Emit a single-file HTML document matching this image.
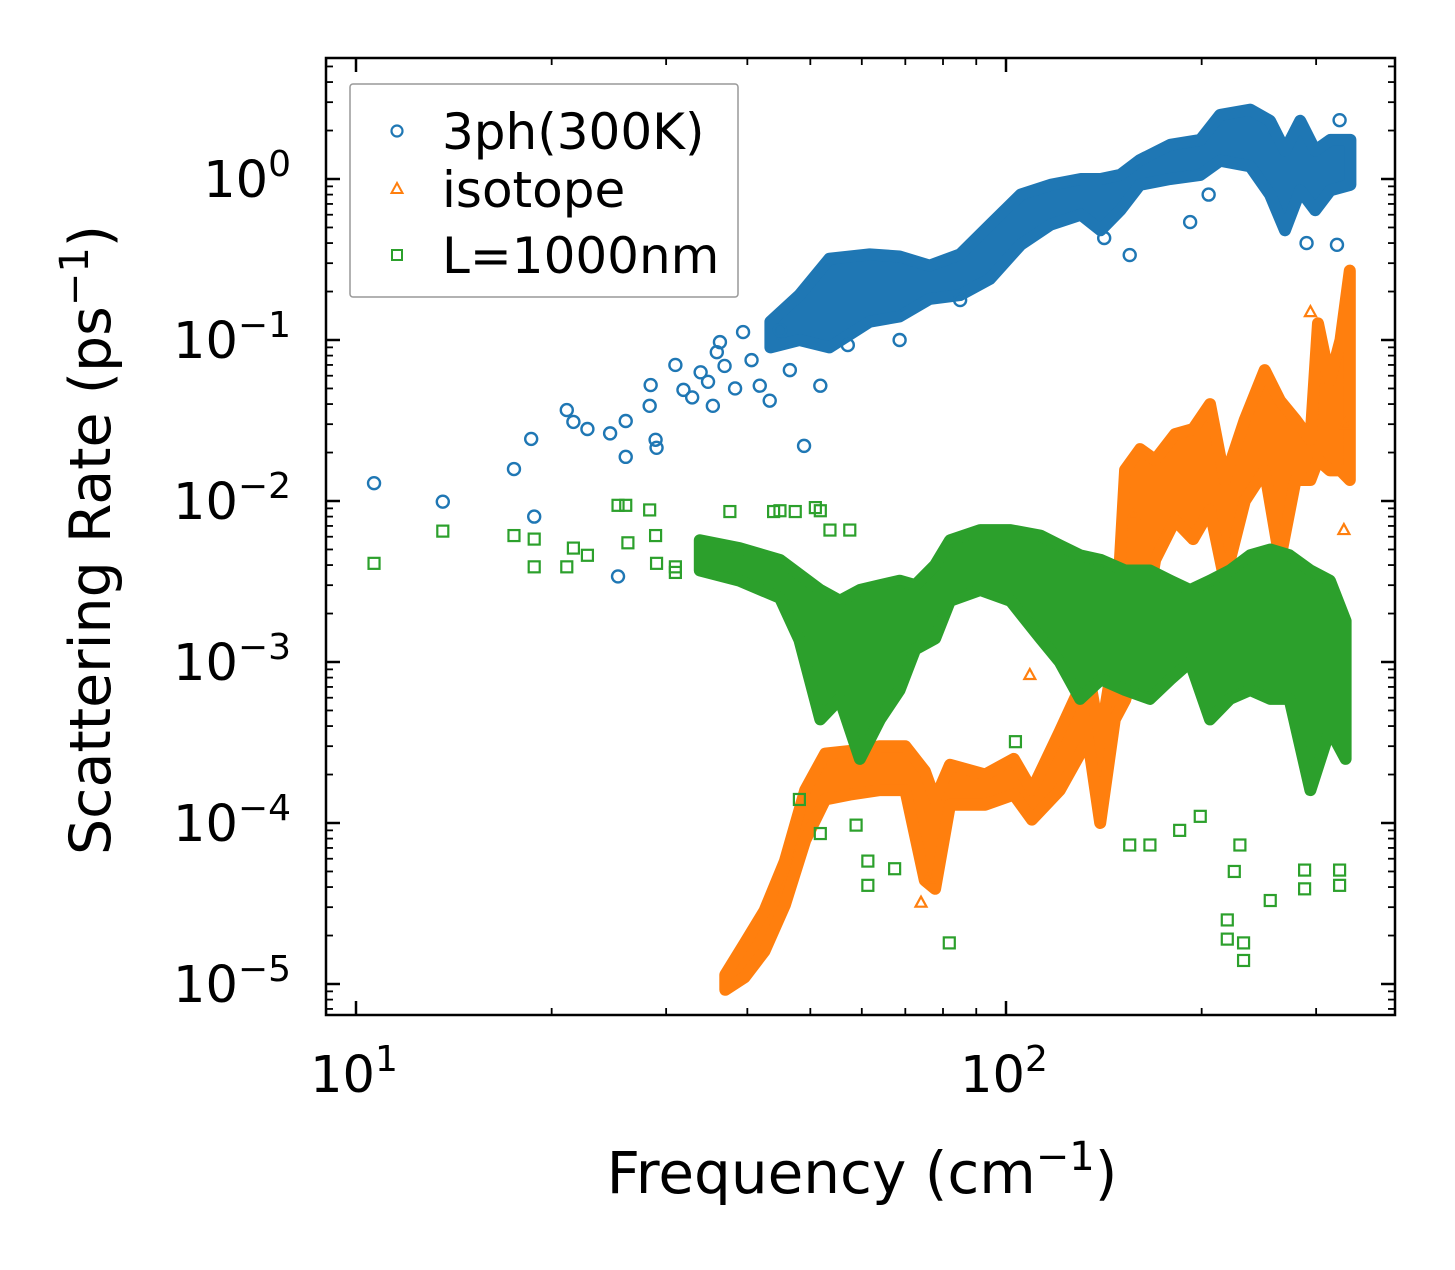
<!DOCTYPE html>
<html><head><meta charset="utf-8"><style>
html,body{margin:0;padding:0;background:#fff}
svg text{font-family:"DejaVu Sans","Liberation Sans",sans-serif;fill:#000}
</style></head><body>
<svg id="chart" width="1455" height="1265" viewBox="0 0 1455 1265" xmlns="http://www.w3.org/2000/svg">
<g id="bands"></g><g id="marks"></g><g id="axes"></g>
</svg>
<script>
// ---- data ----
const xTicks=[10,100];
const xTickLabels=["1","2"];
const yTicks=[1,0.1,0.01,0.001,0.0001,0.00001];
const yTickLabels=["0","\u22121","\u22122","\u22123","\u22124","\u22125"];
// 3ph dense band
const phBandF=[43.4,48.1,53.5,61.7,68.6,76.3,85.0,94.5,105.3,117.1,130.4,139.8,149.9,160.7,178.9,199.1,213.5,237.5,254.8,268.7,283.5,299,315.4,338.7];
const phBandHi=[0.13,0.19,0.32,0.34,0.33,0.29,0.34,0.52,0.8,0.92,1.0,1.0,1.06,1.31,1.63,1.75,2.5,2.7,2.3,1.5,2.3,1.5,1.75,1.75];
const phBandLo=[0.09,0.1,0.09,0.13,0.14,0.18,0.19,0.24,0.39,0.52,0.6,0.48,0.64,0.92,1.0,1.06,1.3,1.2,0.8,0.48,0.85,0.64,0.85,0.92];
const phF=[10.66,13.6,17.5,18.6,18.8,21.1,21.6,22.7,24.6,25.3,26.0,26.0,28.3,28.4,28.9,29.0,31.0,31.9,32.9,33.9,34.8,35.4,35.9,36.3,36.9,38.3,39.4,40.6,41.8,43.3,44.9,46.5,48.9,51.8,57.1,68.6,85.0,141.6,155,192,205,290,323,326];
const phR=[0.0129,0.0099,0.0158,0.0243,0.008,0.0367,0.031,0.028,0.0263,0.0034,0.0188,0.0314,0.039,0.0525,0.024,0.0214,0.07,0.049,0.044,0.063,0.055,0.039,0.084,0.097,0.069,0.05,0.112,0.075,0.052,0.042,0.115,0.065,0.022,0.052,0.093,0.1,0.177,0.43,0.337,0.54,0.8,0.40,0.39,2.32];
// isotope dense band
const isoBandF=[37.0,39.6,42.5,45.7,49.1,52.7,57.5,64.0,70.0,75.0,77.8,82.0,92.9,102.8,109.6,121,133.7,139.6,147,152.5,160.8,169.6,182,194,206,217,233,250,264,279,294,302,315,327,338];
const isoBandHi=[1.14e-5,1.78e-5,2.85e-5,5.8e-5,1.6e-4,2.7e-4,2.8e-4,3.0e-4,3.0e-4,2.1e-4,1.4e-4,2.3e-4,2.0e-4,2.5e-4,1.6e-4,3.7e-4,8.9e-4,3.3e-4,1.2e-3,1.56e-2,2.1e-2,1.8e-2,2.6e-2,2.8e-2,4.0e-2,1.35e-2,3.2e-2,6.5e-2,4.2e-2,3.2e-2,2.4e-2,0.127,5.6e-2,0.1,0.27];
const isoBandLo=[9.2e-6,1.1e-5,1.6e-5,3.1e-5,7.8e-5,1.4e-4,1.5e-4,1.6e-4,1.6e-4,4.4e-5,3.9e-5,1.3e-4,1.3e-4,1.5e-4,1.05e-4,1.6e-4,3.3e-4,1.0e-4,4.4e-4,5.8e-4,1.2e-3,4.3e-3,7.6e-3,5.8e-3,8.8e-3,3.2e-3,1.0e-2,1.55e-2,4.3e-3,1.35e-2,1.35e-2,1.8e-2,1.55e-2,1.55e-2,1.35e-2];
const isoF=[108.8,157,294,331,333,74,76];
const isoR=[8.3e-4,8.2e-3,0.149,6.6e-3,0.03,3.2e-5,4.5e-5];
// boundary (L=1000nm) dense band
const bdBandF=[33.8,38.9,44.9,48.1,51.8,55.5,59.6,64.0,68.6,72.5,77.8,82.0,91.3,101.6,113,121,130,140,152.5,166.5,179,192,206,221,237.5,255,273,294,315,333];
const bdBandHi=[5.7e-3,5.1e-3,4.3e-3,3.5e-3,2.8e-3,2.4e-3,2.8e-3,3.0e-3,3.2e-3,3.0e-3,4.0e-3,5.7e-3,6.6e-3,6.6e-3,6.1e-3,5.3e-3,4.6e-3,4.3e-3,3.7e-3,3.7e-3,3.2e-3,2.8e-3,3.2e-3,3.7e-3,4.6e-3,5.0e-3,4.6e-3,3.7e-3,3.2e-3,1.8e-3];
const bdBandLo=[3.7e-3,3.2e-3,2.5e-3,1.37e-3,4.4e-4,5.9e-4,2.5e-4,4.4e-4,6.7e-4,1.2e-3,1.4e-3,2.4e-3,2.8e-3,2.4e-3,1.4e-3,1.0e-3,5.9e-4,7.8e-4,6.7e-4,5.9e-4,7.8e-4,1.0e-3,4.4e-4,5.9e-4,6.7e-4,5.9e-4,5.9e-4,1.6e-4,3.8e-4,2.5e-4];
const bdF=[10.66,13.6,17.5,18.8,18.8,21.1,21.6,22.7,25.3,26.0,26.2,28.3,28.9,29.0,31.0,31.0,37.6,38.9,43.9,44.9,47.4,50.9,51.8,53.6,57.5,48.1,51.8,58.8,61.3,61.3,67.4,81.8,103.4,155,166.5,185,199,224.5,229,255,219,219,232,232,288,288,326,326];
const bdR=[4.1e-3,6.5e-3,6.1e-3,5.8e-3,3.9e-3,3.9e-3,5.1e-3,4.6e-3,9.4e-3,9.4e-3,5.5e-3,8.8e-3,6.1e-3,4.1e-3,3.9e-3,3.6e-3,8.6e-3,4.7e-3,8.6e-3,8.7e-3,8.6e-3,9.1e-3,8.7e-3,6.6e-3,6.6e-3,1.4e-4,8.6e-5,9.7e-5,5.8e-5,4.1e-5,5.2e-5,1.8e-5,3.2e-4,7.3e-5,7.3e-5,9.0e-5,1.1e-4,5.0e-5,7.3e-5,3.3e-5,2.5e-5,1.9e-5,1.8e-5,1.4e-5,5.1e-5,3.9e-5,5.1e-5,4.1e-5];

// ---- axes ----
const X0=356, XD=650, Y0=179, YD=161;
const L=326,R=1395,T=58,B=1015;
function xs(f){return X0+(Math.log10(f)-1)*XD;}
function ys(r){return Y0-Math.log10(r)*YD;}
const NS="http://www.w3.org/2000/svg";
function mk(tag,attrs,parent){const e=document.createElementNS(NS,tag);for(const k in attrs)e.setAttribute(k,attrs[k]);parent.appendChild(e);return e;}
const bands=document.getElementById('bands'), marks=document.getElementById('marks'), axes=document.getElementById('axes');
const C1='#1f77b4',C2='#ff7f0e',C3='#2ca02c';

function band(F,Hi,Lo,color,name){
  let pts=[];
  for(let i=0;i<F.length;i++)pts.push(xs(F[i]).toFixed(1)+','+ys(Hi[i]).toFixed(1));
  for(let i=F.length-1;i>=0;i--)pts.push(xs(F[i]).toFixed(1)+','+ys(Lo[i]).toFixed(1));
  const p=mk('polygon',{points:pts.join(' '),fill:color,stroke:color,'stroke-width':12,'stroke-linejoin':'round'},bands);
  
  
}
function circ(F,Rr,name){for(let i=0;i<F.length;i++){const e=mk('circle',{cx:xs(F[i]),cy:ys(Rr[i]),r:6,fill:'none',stroke:C1,'stroke-width':2.4},marks);
  
  }}
function tri(F,Rr,name){for(let i=0;i<F.length;i++){const x=xs(F[i]),y=ys(Rr[i]);const e=mk('polygon',{points:`${x},${y-6} ${x-5.5},${y+4} ${x+5.5},${y+4}`,fill:'none',stroke:C2,'stroke-width':2.2},marks);
  
  }}
function sq(F,Rr,name){for(let i=0;i<F.length;i++){const e=mk('rect',{x:xs(F[i])-5.5,y:ys(Rr[i])-5.5,width:11,height:11,fill:'none',stroke:C3,'stroke-width':2.2},marks);
  
  }}

band(phBandF,phBandHi,phBandLo,C1,'3ph-dense-band');
circ(phF,phR,'3ph-point');
band(isoBandF,isoBandHi,isoBandLo,C2,'isotope-dense-band');
tri(isoF,isoR,'isotope-point');
band(bdBandF,bdBandHi,bdBandLo,C3,'boundary-dense-band');
sq(bdF,bdR,'boundary-point');

// frame
const fr=mk('rect',{x:L,y:T,width:R-L,height:B-T,fill:'none',stroke:'#000','stroke-width':2.5},axes);


// x ticks
for(const dec of [1,10,100]){for(let m=1;m<10;m++){const f=dec*m;const x=xs(f);if(x<L||x>R)continue;const len=m===1?14:7;const w=m===1?2.5:1.8;
  mk('line',{x1:x,y1:B,x2:x,y2:B-len,stroke:'#000','stroke-width':w},axes);
  mk('line',{x1:x,y1:T,x2:x,y2:T+len,stroke:'#000','stroke-width':w},axes);}}
xTicks.forEach((v,i)=>{const t=mk('text',{x:xs(v)-2,y:1092,'font-size':51,'text-anchor':'middle'},axes);t.textContent='10';
  const s=mk('tspan',{dy:-21,'font-size':36},t);s.textContent=xTickLabels[i];
  
  });
// y ticks
for(let e=-6;e<=1;e++){for(let m=1;m<10;m++){const r=m*Math.pow(10,e);const y=ys(r);if(y<T||y>B)continue;const len=m===1?14:7;const w=m===1?2.5:1.8;
  mk('line',{x1:L,y1:y,x2:L+len,y2:y,stroke:'#000','stroke-width':w},axes);
  mk('line',{x1:R,y1:y,x2:R-len,y2:y,stroke:'#000','stroke-width':w},axes);}}
yTicks.forEach((v,i)=>{const t=mk('text',{x:291,y:ys(v)+18,'font-size':51,'text-anchor':'end'},axes);t.appendChild(document.createTextNode('10'));
  const s=mk('tspan',{dy:-21,'font-size':36},t);s.textContent=yTickLabels[i];
  
  });
// titles
const xt=mk('text',{x:862,y:1193,'font-size':58,'text-anchor':'middle'},axes);xt.appendChild(document.createTextNode('Frequency (cm'));
mk('tspan',{dy:-23,'font-size':40},xt).textContent='\u22121';mk('tspan',{dy:23},xt).textContent=')';


const yt=mk('text',{x:0,y:0,'font-size':57,'text-anchor':'middle',transform:'translate(110,540) rotate(-90)'},axes);yt.appendChild(document.createTextNode('Scattering Rate (ps'));
mk('tspan',{dy:-22,'font-size':40},yt).textContent='\u22121';mk('tspan',{dy:22},yt).textContent=')';


// legend
const lg=mk('g',{},axes);


mk('rect',{x:350,y:84,width:388,height:213,fill:'#fff',stroke:'#999','stroke-width':1.5,rx:3},lg);
const legNames=['3ph(300K)','isotope','L=1000nm'];
const legY=[131,189,255];
mk('circle',{cx:397,cy:legY[0],r:5.5,fill:'none',stroke:C1,'stroke-width':2.2},lg);
mk('polygon',{points:`397,${legY[1]-6} 391.5,${legY[1]+4} 402.5,${legY[1]+4}`,fill:'none',stroke:C2,'stroke-width':2},lg);
mk('rect',{x:392,y:legY[2]-5,width:10,height:10,fill:'none',stroke:C3,'stroke-width':2},lg);
legNames.forEach((n,i)=>{const t=mk('text',{x:442,y:legY[i]+18,'font-size':50},lg);t.textContent=n;
  
  });
</script>
</body></html>
